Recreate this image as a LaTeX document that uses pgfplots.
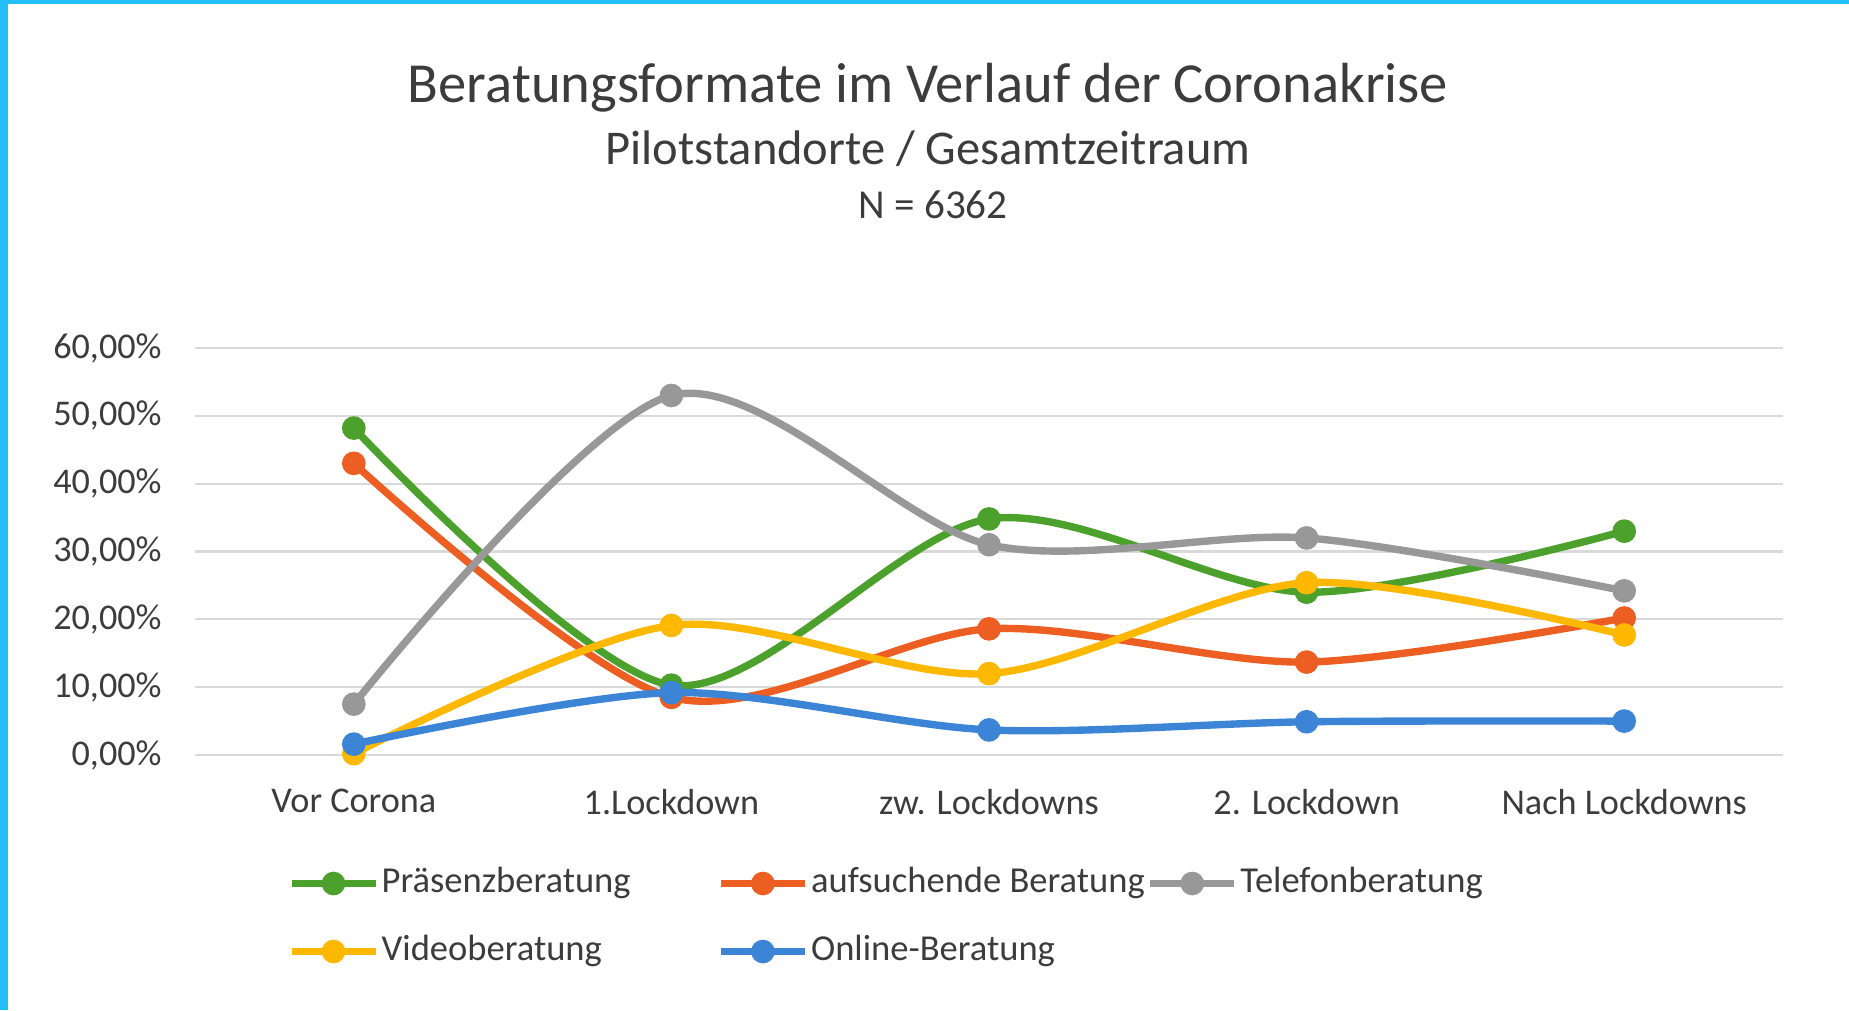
\documentclass[border=0pt]{standalone}
\usepackage{fontspec}
\setmainfont{Carlito}
\usepackage{pgfplots}
\usepackage{pgfplotstable}
\pgfplotsset{compat=1.18}

\definecolor{txt}{RGB}{60,60,60}
\definecolor{gruen}{RGB}{76,160,44}
\definecolor{orng}{RGB}{237,94,34}
\definecolor{grau}{RGB}{152,152,152}
\definecolor{gelb}{RGB}{255,184,0}
\definecolor{blau}{RGB}{60,132,214}
\definecolor{gitter}{RGB}{217,217,217}
\definecolor{rahmen}{RGB}{36,190,248}

% Anteile in Prozent
\pgfplotstableread{
x praesenz aufsuchend telefon video online
0 48.2 43.0 7.5 0.2 1.6
1 10.3 8.5 53.0 19.1 9.2
2 34.8 18.6 31.0 12.0 3.7
3 24.0 13.7 32.0 25.4 4.9
4 33.0 20.2 24.2 17.7 5.0
}\daten

\tikzset{
  serie/.style={line width=2.1pt, smooth, tension=0.5, mark=*, mark size=2.3pt,
    mark options={solid}},
}

\begin{document}
\begin{tikzpicture}[x=1mm,y=1mm]
\useasboundingbox (0,0) rectangle (184.9,101);
\fill[white] (0,0) rectangle (184.9,101);
\fill[rahmen] (0,0) rectangle (0.8,101);
\fill[rahmen] (0,100.6) rectangle (184.9,101);

\node[anchor=base, text=txt, font=\fontsize{16.1pt}{18pt}\selectfont] at (92.8,90.7) {Beratungsformate im Verlauf der Coronakrise};
\node[anchor=base, text=txt, font=\fontsize{13.8pt}{16pt}\selectfont] at (92.8,84.5) {Pilotstandorte / Gesamtzeitraum};
\node[anchor=base, text=txt, font=\fontsize{11.7pt}{14pt}\selectfont] at (93.3,79.1) {N = 6362};

\begin{axis}[
  at={(19.5mm,25.5mm)}, anchor=south west,
  scale only axis, width=158.8mm, height=40.7mm,
  xmin=-0.5, xmax=4.5, ymin=0, ymax=60,
  xtick={0,1,2,3,4},
  xticklabels={Vor Corona,1.Lockdown,zw. Lockdowns,2. Lockdown,Nach Lockdowns},
  ytick={0,10,...,60},
  yticklabel={\pgfmathprintnumber[fixed,fixed zerofill,precision=2,use comma]{\tick}\%},
  /pgf/number format/assume math mode=true,
  axis line style={draw=none},
  major tick length=0pt,
  ymajorgrids, grid style={gitter, line width=0.6pt},
  tick label style={text=txt, font=\fontsize{10.3pt}{12pt}\selectfont},
  xticklabel style={yshift=-2.2mm},
  yticklabel style={xshift=-2.1mm},
  clip=false,
  legend columns=3,
  legend style={at={(rel axis cs:0.058,-0.26)}, anchor=north west, draw=none, fill=none,
    inner sep=0pt, font=\fontsize{10.4pt}{12pt}\selectfont, text=txt,
    nodes={inner xsep=0.25mm, inner ysep=0.5mm, text height=2.6mm, text depth=0.8mm},
    /tikz/every odd column/.append style={column sep=0mm},
    /tikz/every even column/.append style={column sep=0mm},
    row sep=2.4mm},
  legend cell align=left,
  legend image code/.code={
    \draw[mark repeat=2, mark phase=2, #1] plot coordinates {(0mm,0mm) (4.2mm,0mm) (8.4mm,0mm)};
  },
]
\addplot[serie, gruen] table[x=x, y=praesenz] {\daten};
\addlegendentry{\makebox[33.3mm][l]{Präsenzberatung}}
\addplot[serie, orng] table[x=x, y=aufsuchend] {\daten};
\addlegendentry{\makebox[33.3mm][l]{aufsuchende Beratung}}
\addplot[serie, grau] table[x=x, y=telefon] {\daten};
\addlegendentry{Telefonberatung}
\addplot[serie, gelb] table[x=x, y=video] {\daten};
\addlegendentry{\makebox[33.3mm][l]{Videoberatung}}
\addplot[serie, blau] table[x=x, y=online] {\daten};
\addlegendentry{\makebox[33.3mm][l]{Online-Beratung}}
\end{axis}
\end{tikzpicture}
\end{document}
